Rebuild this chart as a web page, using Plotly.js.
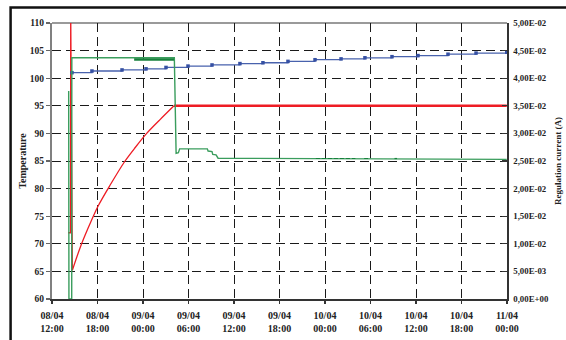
<!DOCTYPE html>
<html>
<head>
<meta charset="utf-8">
<script src="https://cdn.plot.ly/plotly-3.0.1.min.js"></script>
<style>
  html, body { margin: 0; padding: 0; background: #fff; }
  #chart { width: 566px; height: 340px; }
</style>
</head>
<body>
<div id="chart"></div>
<script>
// ---- Data ----
// Temperature (left axis) – red series
const redTimes = [
  "2008-04-08 14:07", "2008-04-08 14:27", "2008-04-08 14:28", "2008-04-08 14:41",
  "2008-04-08 15:41", "2008-04-08 16:45", "2008-04-08 18:04", "2008-04-08 19:39",
  "2008-04-08 21:38", "2008-04-08 22:57", "2008-04-09 00:29", "2008-04-09 02:15",
  "2008-04-09 04:05", "2008-04-10 23:58"
];
const redTemp = [72, 72, 112, 65.2, 69.2, 72.8, 76.8, 80.6, 85, 87.4, 90, 92.5, 95, 95];

// Regulation current (right axis) – green series
const greenTimes = [
  "2008-04-08 14:12", "2008-04-08 14:14", "2008-04-08 14:36", "2008-04-08 14:37",
  "2008-04-09 04:08", "2008-04-09 04:22", "2008-04-09 04:40", "2008-04-09 04:50",
  "2008-04-09 08:29", "2008-04-09 08:35", "2008-04-09 09:06", "2008-04-09 09:12",
  "2008-04-09 09:38", "2008-04-09 09:54", "2008-04-10 23:58"
];
const greenCurrent = [0.0377, 0, 0, 0.0437, 0.0437, 0.0264, 0.0265, 0.0272, 0.0272,
  0.0268, 0.0267, 0.0262, 0.0261, 0.0255, 0.0253];

// Dense noisy stretches of the current (drawn as darker bands)
const noise1Times = ["2008-04-08 22:00", "2008-04-08 22:20", "2008-04-08 22:50", "2008-04-09 04:05"];
const noise1Current = [0.0434, null, 0.0434, 0.0434];
const noise2Times = ["2008-04-09 22:48", "2008-04-10 04:00", "2008-04-10 04:30", "2008-04-10 05:10",
  "2008-04-10 06:00", "2008-04-10 06:40", "2008-04-10 09:10", "2008-04-10 09:30"];
const noise2Current = [0.02545, 0.02545, null, 0.02545, 0.02545, null, 0.02545, 0.02545];

// Temperature (left axis) – blue series
const blueTimes = [
  "2008-04-08 14:38", "2008-04-08 17:16", "2008-04-08 21:14", "2008-04-09 00:24",
  "2008-04-09 03:02", "2008-04-09 05:56", "2008-04-09 09:06", "2008-04-09 12:47",
  "2008-04-09 15:49", "2008-04-09 19:07", "2008-04-09 22:41", "2008-04-10 02:07",
  "2008-04-10 05:16", "2008-04-10 08:50", "2008-04-10 12:16", "2008-04-10 16:13",
  "2008-04-10 19:55", "2008-04-10 23:58"
];
const blueTemp = [101.0, 101.3, 101.5, 101.7, 101.95, 102.2, 102.4, 102.65, 102.8,
  103.05, 103.35, 103.5, 103.7, 103.9, 104.1, 104.35, 104.55, 104.7];

// Tick labels
const xTickVals = [
  "2008-04-08 12:00", "2008-04-08 18:00", "2008-04-09 00:00", "2008-04-09 06:00",
  "2008-04-09 12:00", "2008-04-09 18:00", "2008-04-10 00:00", "2008-04-10 06:00",
  "2008-04-10 12:00", "2008-04-10 18:00", "2008-04-11 00:00"
];
const xTickText = [
  "08/04<br>12:00", "08/04<br>18:00", "09/04<br>00:00", "09/04<br>06:00",
  "09/04<br>12:00", "09/04<br>18:00", "10/04<br>00:00", "10/04<br>06:00",
  "10/04<br>12:00", "10/04<br>18:00", "11/04<br>00:00"
];
const y2TickVals = [0, 0.005, 0.01, 0.015, 0.02, 0.025, 0.03, 0.035, 0.04, 0.045, 0.05];
const y2TickText = ["0,00E+00", "5,00E-03", "1,00E-02", "1,50E-02", "2,00E-02", "2,50E-02",
  "3,00E-02", "3,50E-02", "4,00E-02", "4,50E-02", "5,00E-02"];

// ---- Traces ----
const serif = "Liberation Serif, Times New Roman, serif";
const traces = [
  // start-up spike
  { x: redTimes.slice(0, 4), y: redTemp.slice(0, 4), type: "scatter", mode: "lines", yaxis: "y",
    line: { color: "#ee1c24", width: 1.3 }, hoverinfo: "skip" },
  // heating curve
  { x: redTimes.slice(3, 13), y: redTemp.slice(3, 13), type: "scatter", mode: "lines", yaxis: "y",
    line: { color: "#ee1c24", width: 1.3, shape: "spline", smoothing: 0.8 }, hoverinfo: "skip" },
  // regulated plateau
  { x: redTimes.slice(12), y: redTemp.slice(12), type: "scatter", mode: "lines", yaxis: "y",
    line: { color: "#ee1c24", width: 2.6 }, hoverinfo: "skip" },
  { x: greenTimes, y: greenCurrent, type: "scatter", mode: "lines", yaxis: "y2",
    line: { color: "#3a9d5d", width: 1.4 }, hoverinfo: "skip" },
  { x: noise1Times, y: noise1Current, type: "scatter", mode: "lines", yaxis: "y2",
    line: { color: "#17803c", width: 2.6 }, hoverinfo: "skip" },
  { x: noise2Times, y: noise2Current, type: "scatter", mode: "lines", yaxis: "y2",
    line: { color: "#17803c", width: 1.2, dash: "4px,2px" }, hoverinfo: "skip" },
  { x: blueTimes, y: blueTemp, type: "scatter", mode: "lines+markers", yaxis: "y",
    line: { color: "#4862ad", width: 1.3, shape: "hv" },
    marker: { color: "#3550a3", size: 3.5, symbol: "square" }, hoverinfo: "skip" }
];

const layout = {
  width: 566, height: 340,
  margin: { l: 52, r: 59, t: 23, b: 41 },
  paper_bgcolor: "#ffffff", plot_bgcolor: "#ffffff",
  showlegend: false,
  font: { family: serif, color: "#222" },
  xaxis: {
    type: "date",
    range: ["2008-04-08 12:00", "2008-04-11 00:00"],
    tickmode: "array", tickvals: xTickVals, ticktext: xTickText,
    tickfont: { family: serif, size: 10, color: "#222", weight: "bold" },
    ticklabelstandoff: 3,
    showgrid: true, gridcolor: "#1a1a1a", gridwidth: 1, griddash: "9px,5px",
    showline: true, linecolor: "#333", linewidth: 1.5,
    ticks: "outside", ticklen: 3, tickcolor: "#333", tickwidth: 1.2,
    zeroline: false
  },
  yaxis: {
    range: [60, 110], tickmode: "array",
    tickvals: [60, 65, 70, 75, 80, 85, 90, 95, 100, 105, 110],
    tickfont: { family: serif, size: 9.5, color: "#222", weight: "bold" },
    showgrid: true, gridcolor: "#1a1a1a", gridwidth: 1, griddash: "9px,5px",
    showline: true, linecolor: "#808080", linewidth: 2,
    ticks: "outside", ticklen: 4, tickcolor: "#666", tickwidth: 1.2,
    zeroline: false,
    title: { text: "Temperature", font: { family: serif, size: 10, color: "#222", weight: "bold" }, standoff: 1 }
  },
  yaxis2: {
    overlaying: "y", side: "right",
    range: [0, 0.05], tickmode: "array", tickvals: y2TickVals, ticktext: y2TickText,
    tickfont: { family: serif, size: 8.8, color: "#222", weight: "bold" },
    ticklabelstandoff: 3,
    showgrid: false, showline: true, linecolor: "#333", linewidth: 1.5,
    ticks: "inside", ticklen: 5, tickcolor: "#333", tickwidth: 1.2,
    zeroline: false,
    title: { text: "Regulation current (A)", font: { family: serif, size: 9, color: "#222", weight: "bold" }, standoff: 7 }
  },
  shapes: [
    { type: "line", xref: "paper", yref: "paper", x0: 0, x1: 1, y0: 1, y1: 1,
      line: { color: "#9a9a9a", width: 2 }, layer: "below" },
    { type: "rect", xref: "paper", yref: "paper", x0: -0.091, x1: 1.3, y0: -0.3, y1: 1.056,
      line: { color: "#111", width: 2.5 }, fillcolor: "rgba(0,0,0,0)" }
  ]
};

Plotly.newPlot("chart", traces, layout, { staticPlot: true, displayModeBar: false });
</script>
</body>
</html>
